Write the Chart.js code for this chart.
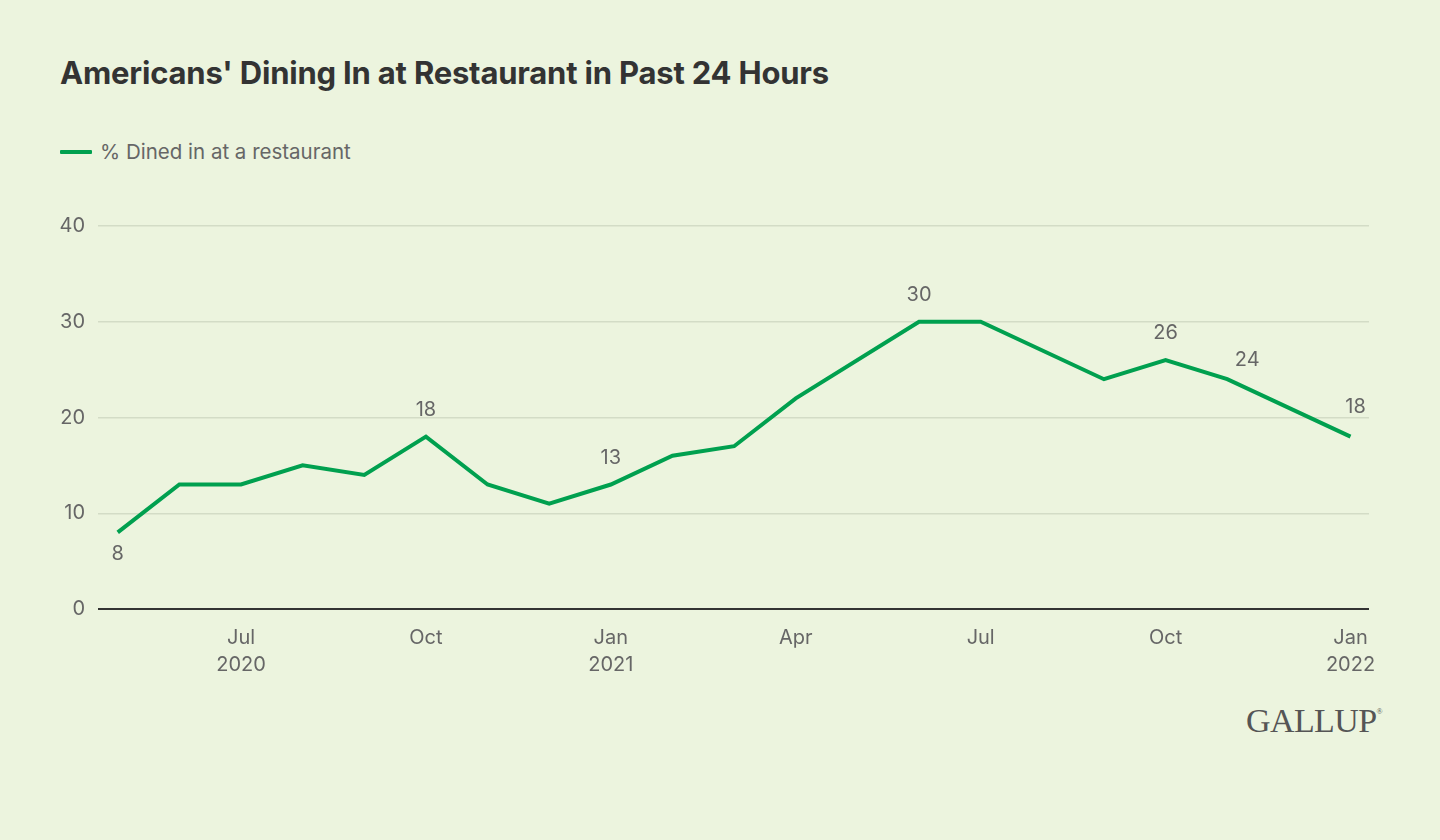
<!DOCTYPE html>
<html>
<head>
<meta charset="utf-8">
<script src="https://cdn.jsdelivr.net/npm/chart.js@4"></script>
<style>
  html, body { margin: 0; padding: 0; background: #ECF4DE; }
  body { width: 1440px; height: 840px; position: relative; overflow: hidden; font-family: Inter, "Noto Sans", sans-serif; }
  #title { position: absolute; left: 60px; top: 54px; font-size: 31px; font-weight: 700; color: #333; letter-spacing: -0.2px; }
  #legend { position: absolute; left: 60px; top: 139px; font-size: 20.5px; color: #666; display: flex; align-items: center; }
  #legend .swatch { width: 32px; height: 4px; background: #00A04F; margin-right: 8px; border-radius: 1px; }
  #wrap { position: absolute; left: 0; top: 200px; width: 1440px; height: 500px; }
  #logo { position: absolute; left: 1246px; top: 702px; font-family: "Liberation Serif", "DejaVu Serif", serif; font-size: 34px; color: #555; letter-spacing: -0.6px; }
  #logo sup { font-size: 8px; vertical-align: top; position: relative; top: 5px; }
</style>
</head>
<body>
<div id="title">Americans' Dining In at Restaurant in Past 24 Hours</div>
<div id="legend"><span class="swatch"></span>% Dined in at a restaurant</div>
<div id="wrap"><canvas id="chart"></canvas></div>
<div id="logo">GALLUP<sup>®</sup></div>

<script>
// ── Dati ──────────────────────────────────────
// mesi contati da gen 2020 = 0
const months  = [4, 5, 6, 7, 8, 9, 10, 11, 12, 13, 14, 15, 17, 18, 20, 21, 22, 24];
const values  = [8, 13, 13, 15, 14, 18, 13, 11, 13, 16, 17, 22, 30, 30, 24, 26, 24, 18];
const tickMonths = [6, 9, 12, 15, 18, 21, 24];
const tickLabels = [['Jul', '2020'], 'Oct', ['Jan', '2021'], 'Apr', 'Jul', 'Oct', ['Jan', '2022']];
const yTicks  = [0, 10, 20, 30, 40];
// etichette valore: indice del punto + posizione
const labelIdx = [0, 5, 8, 12, 15, 16, 17];
const labelPos = ['below', 'above', 'above', 'above', 'above', 'right', 'high'];

const GREEN = '#00A04F';
const TEXT  = '#666666';
const FONT  = 'Inter, "Noto Sans", sans-serif';

// ── Plugin etichette ──────────────────────────
const valueLabels = {
    id: 'valueLabels',
    afterDatasetsDraw(chart) {
        const ctx = chart.ctx;
        const meta = chart.getDatasetMeta(0);
        ctx.save();
        ctx.font = '20px ' + FONT;
        ctx.fillStyle = TEXT;
        ctx.textAlign = 'center';
        ctx.textBaseline = 'middle';
        labelIdx.forEach((i, k) => {
            const pt = meta.data[i];
            let dx = 0, dy = -27;
            if (labelPos[k] === 'below') dy = 22;
            if (labelPos[k] === 'right') { dx = 20; dy = -19; }
            if (labelPos[k] === 'high')  { dx = 5;  dy = -30; }
            ctx.fillText(String(values[i]), pt.x + dx, pt.y + dy);
        });
        ctx.restore();
    }
};

// ── Grafico ───────────────────────────────────
const ctx = document.getElementById('chart').getContext('2d');
new Chart(ctx, {
    type: 'line',
    data: {
        datasets: [{
            label: '% Dined in at a restaurant',
            data: months.map((m, i) => ({ x: m, y: values[i] })),
            borderColor: GREEN,
            borderWidth: 4,
            pointRadius: 0,
            tension: 0,
            fill: false
        }]
    },
    options: {
        responsive: true, maintainAspectRatio: false,
        animation: false,
        layout: { padding: { top: 26, right: 71, left: 0, bottom: 0 } },
        plugins: { legend: { display: false }, tooltip: { enabled: false } },
        scales: {
            x: {
                type: 'linear',
                min: 3.68, max: 24.3,
                afterBuildTicks: s => { s.ticks = tickMonths.map(v => ({ value: v })); },
                afterFit: s => { s.height = 91; },
                grid: { display: false },
                border: { display: false },
                ticks: {
                    color: TEXT,
                    font: { size: 20, family: FONT, lineHeight: 1.35 },
                    padding: 7,
                    maxRotation: 0,
                    autoSkip: false,
                    callback: v => tickLabels[tickMonths.indexOf(v)] ?? ''
                }
            },
            y: {
                min: 0, max: 40,
                afterBuildTicks: s => { s.ticks = yTicks.map(v => ({ value: v })); },
                afterFit: s => { s.width = 98; },
                border: { display: false },
                grid: {
                    color: c => c.tick.value === 0 ? '#333333' : '#D3DCC6',
                    lineWidth: c => c.tick.value === 0 ? 2 : 1.5,
                    drawTicks: false
                },
                ticks: {
                    color: TEXT,
                    font: { size: 20, family: FONT },
                    padding: 13
                }
            }
        }
    },
    plugins: [valueLabels]
});
</script>
</body>
</html>
